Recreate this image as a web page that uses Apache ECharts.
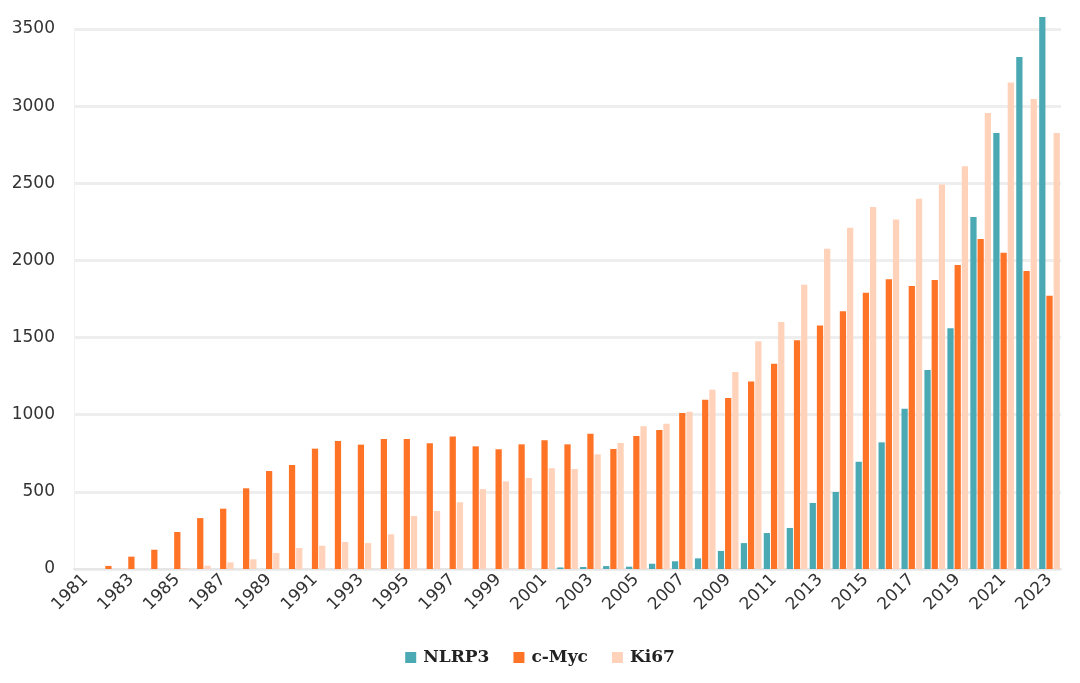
<!DOCTYPE html>
<html>
<head>
<meta charset="utf-8">
<script src="https://cdn.jsdelivr.net/npm/echarts@6/dist/echarts.min.js"></script>
<style>html,body{margin:0;padding:0;background:#fff;}#c{width:1080px;height:683px;}</style>
</head>
<body>
<div id="c"></div>
<script>
const years = [];
for (let y = 1981; y <= 2023; y++) years.push(String(y));

const nlrp3 = [0,0,0,0,0,0,0,0,0,0,0,0,0,0,0,0,0,0,0,0,0,
  10,13,19,15,34,50,69,117,168,233,266,428,499,695,821,1039,1290,1560,2281,2826,3318,3577];
const cmyc = [0,20,80,125,240,330,391,523,635,674,780,830,806,843,843,815,858,795,776,808,834,
  808,877,778,862,901,1011,1097,1108,1216,1331,1482,1579,1670,1791,1878,1834,1873,1970,2139,2049,1932,1771];
const ki67 = [0,0,0,0,5,21,43,63,104,136,151,175,168,225,343,376,432,518,568,590,653,
  648,743,817,925,942,1020,1161,1277,1476,1601,1843,2076,2212,2346,2266,2399,2492,2610,2955,3154,3046,2826];

const yTicks = [0,500,1000,1500,2000,2500,3000,3500];

const chart = echarts.init(document.getElementById('c'));
const axisFont = 'DejaVu Sans';
chart.setOption({
  animation: false,
  backgroundColor: '#ffffff',
  color: ['#4aa9b3', '#ff7326', '#ffd2b9'],
  grid: { left: 74, right: 19, top: 29, bottom: 114, containLabel: false },
  legend: {
    bottom: 12,
    left: 'center',
    itemWidth: 11,
    itemHeight: 11,
    itemGap: 24,
    icon: 'rect',
    textStyle: { fontFamily: 'DejaVu Serif', fontWeight: 'bold', fontSize: 17, color: '#222', padding: [0, 0, 0, 2] },
    data: ['NLRP3', 'c-Myc', 'Ki67']
  },
  xAxis: {
    type: 'category',
    data: years,
    axisTick: { show: false },
    axisLine: { show: true, lineStyle: { color: '#e6e6e6', width: 2 } },
    axisLabel: { interval: 1, rotate: 45, margin: 8, fontFamily: axisFont, fontSize: 17, color: '#333' }
  },
  yAxis: {
    type: 'value',
    min: yTicks[0],
    max: yTicks[yTicks.length - 1],
    interval: 500,
    axisLine: { show: true, lineStyle: { color: '#f2f2f2', width: 1 } },
    axisTick: { show: false },
    splitLine: { show: true, lineStyle: { color: '#eeeeee', width: 3 } },
    axisLabel: { margin: 19, fontFamily: axisFont, fontSize: 17, color: '#333', formatter: v => String(v) }
  },
  series: [
    { name: 'NLRP3', type: 'bar', data: nlrp3, barGap: '15%', barCategoryGap: '10%', clip: false },
    { name: 'c-Myc', type: 'bar', data: cmyc, barGap: '15%', barCategoryGap: '10%', clip: false },
    { name: 'Ki67', type: 'bar', data: ki67, barGap: '15%', barCategoryGap: '10%', clip: false }
  ]
});
</script>
</body>
</html>
